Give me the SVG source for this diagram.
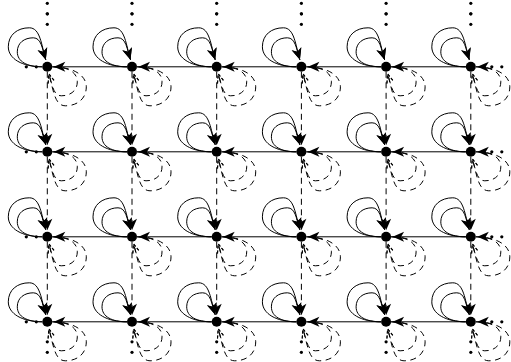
<svg xmlns="http://www.w3.org/2000/svg" width="511" height="362" viewBox="0 0 511 362">
<style>
.s{fill:none;stroke:#000;stroke-width:1}
.d{fill:none;stroke:#000;stroke-width:1;stroke-dasharray:6 4.5}
.n{fill:#000}
.dot{fill:#000}
.hid{fill:none;stroke:none}
</style>
<defs>
<marker id="ah" viewBox="-12.5 -6 13 12" refX="0" refY="0" markerWidth="13" markerHeight="12" markerUnits="userSpaceOnUse" orient="auto">
<path d="M0,0 L-11.5,-5 L-8.5,0 L-11.5,5 Z" fill="#000"/>
</marker>
<marker id="ao" viewBox="-12.5 -6 13 12" refX="0" refY="0" markerWidth="13" markerHeight="12" markerUnits="userSpaceOnUse" orient="auto">
<path d="M-9,-3.5 L0,0 L-9,3.5" fill="none" stroke="#000" stroke-width="1" stroke-dasharray="3 2"/>
</marker>
<g id="sl">
<path class="s" d="M-5,0 C-25,0 -39,-8 -39,-20 C-39,-32 -30,-39 -18,-39 C-7,-39 -6,-22 -1.5,-7" marker-end="url(#ah)"/>
<path class="s" d="M-5,0 C-20,0 -30,-5 -30,-15 C-30,-24 -23,-29 -14,-29 C-6,-29 -5,-18 -1.5,-7" marker-end="url(#ah)"/>
</g>
<g id="dl">
<path class="d" d="M5,0 C25,0 39,8 39,20 C39,32 30,39 18,39 C7,39 6,22 1.5,7" marker-end="url(#ao)"/>
<path class="d" d="M5,0 C20,0 30,5 30,15 C30,24 23,29 14,29 C6,29 5,18 1.5,7" marker-end="url(#ao)"/>
</g>
<g id="vd"><circle class="dot" cx="0" cy="0" r="1.6"/><circle class="dot" cx="0" cy="10.5" r="1.6"/></g>
</defs>
<g id="connectors">
<g id="loops-solid">
<use href="#sl" x="47.3" y="66.8"/><use href="#sl" x="132" y="66.8"/><use href="#sl" x="216.7" y="66.8"/><use href="#sl" x="301.4" y="66.8"/><use href="#sl" x="386.1" y="66.8"/><use href="#sl" x="470.8" y="66.8"/>
<use href="#sl" x="47.3" y="151.8"/><use href="#sl" x="132" y="151.8"/><use href="#sl" x="216.7" y="151.8"/><use href="#sl" x="301.4" y="151.8"/><use href="#sl" x="386.1" y="151.8"/><use href="#sl" x="470.8" y="151.8"/>
<use href="#sl" x="47.3" y="236.8"/><use href="#sl" x="132" y="236.8"/><use href="#sl" x="216.7" y="236.8"/><use href="#sl" x="301.4" y="236.8"/><use href="#sl" x="386.1" y="236.8"/><use href="#sl" x="470.8" y="236.8"/>
<use href="#sl" x="47.3" y="321.8"/><use href="#sl" x="132" y="321.8"/><use href="#sl" x="216.7" y="321.8"/><use href="#sl" x="301.4" y="321.8"/><use href="#sl" x="386.1" y="321.8"/><use href="#sl" x="470.8" y="321.8"/>
</g>
<g id="loops-dashed">
<use href="#dl" x="47.3" y="66.8"/><use href="#dl" x="132" y="66.8"/><use href="#dl" x="216.7" y="66.8"/><use href="#dl" x="301.4" y="66.8"/><use href="#dl" x="386.1" y="66.8"/><use href="#dl" x="470.8" y="66.8"/>
<use href="#dl" x="47.3" y="151.8"/><use href="#dl" x="132" y="151.8"/><use href="#dl" x="216.7" y="151.8"/><use href="#dl" x="301.4" y="151.8"/><use href="#dl" x="386.1" y="151.8"/><use href="#dl" x="470.8" y="151.8"/>
<use href="#dl" x="47.3" y="236.8"/><use href="#dl" x="132" y="236.8"/><use href="#dl" x="216.7" y="236.8"/><use href="#dl" x="301.4" y="236.8"/><use href="#dl" x="386.1" y="236.8"/><use href="#dl" x="470.8" y="236.8"/>
<use href="#dl" x="47.3" y="321.8"/><use href="#dl" x="132" y="321.8"/><use href="#dl" x="216.7" y="321.8"/><use href="#dl" x="301.4" y="321.8"/><use href="#dl" x="386.1" y="321.8"/><use href="#dl" x="470.8" y="321.8"/>
</g>
<g id="horizontal">
<path class="s" d="M127,66.8 L53.8,66.8" marker-end="url(#ah)"/><path class="s" d="M211.7,66.8 L138.5,66.8" marker-end="url(#ah)"/><path class="s" d="M296.4,66.8 L223.2,66.8" marker-end="url(#ah)"/><path class="s" d="M381.1,66.8 L307.9,66.8" marker-end="url(#ah)"/><path class="s" d="M465.8,66.8 L392.6,66.8" marker-end="url(#ah)"/><path class="hid" d="M487.3,66.8 L477.3,66.8" marker-end="url(#ah)"/>
<path class="s" d="M127,151.8 L53.8,151.8" marker-end="url(#ah)"/><path class="s" d="M211.7,151.8 L138.5,151.8" marker-end="url(#ah)"/><path class="s" d="M296.4,151.8 L223.2,151.8" marker-end="url(#ah)"/><path class="s" d="M381.1,151.8 L307.9,151.8" marker-end="url(#ah)"/><path class="s" d="M465.8,151.8 L392.6,151.8" marker-end="url(#ah)"/><path class="hid" d="M487.3,151.8 L477.3,151.8" marker-end="url(#ah)"/>
<path class="s" d="M127,236.8 L53.8,236.8" marker-end="url(#ah)"/><path class="s" d="M211.7,236.8 L138.5,236.8" marker-end="url(#ah)"/><path class="s" d="M296.4,236.8 L223.2,236.8" marker-end="url(#ah)"/><path class="s" d="M381.1,236.8 L307.9,236.8" marker-end="url(#ah)"/><path class="s" d="M465.8,236.8 L392.6,236.8" marker-end="url(#ah)"/><path class="hid" d="M487.3,236.8 L477.3,236.8" marker-end="url(#ah)"/>
<path class="s" d="M127,321.8 L53.8,321.8" marker-end="url(#ah)"/><path class="s" d="M211.7,321.8 L138.5,321.8" marker-end="url(#ah)"/><path class="s" d="M296.4,321.8 L223.2,321.8" marker-end="url(#ah)"/><path class="s" d="M381.1,321.8 L307.9,321.8" marker-end="url(#ah)"/><path class="s" d="M465.8,321.8 L392.6,321.8" marker-end="url(#ah)"/><path class="hid" d="M487.3,321.8 L477.3,321.8" marker-end="url(#ah)"/>
</g>
<g id="vertical">
<path class="d" d="M47.3,71.8 L47.3,145.3" marker-end="url(#ah)"/><path class="d" d="M132,71.8 L132,145.3" marker-end="url(#ah)"/><path class="d" d="M216.7,71.8 L216.7,145.3" marker-end="url(#ah)"/><path class="d" d="M301.4,71.8 L301.4,145.3" marker-end="url(#ah)"/><path class="d" d="M386.1,71.8 L386.1,145.3" marker-end="url(#ah)"/><path class="d" d="M470.8,71.8 L470.8,145.3" marker-end="url(#ah)"/>
<path class="d" d="M47.3,156.8 L47.3,230.3" marker-end="url(#ah)"/><path class="d" d="M132,156.8 L132,230.3" marker-end="url(#ah)"/><path class="d" d="M216.7,156.8 L216.7,230.3" marker-end="url(#ah)"/><path class="d" d="M301.4,156.8 L301.4,230.3" marker-end="url(#ah)"/><path class="d" d="M386.1,156.8 L386.1,230.3" marker-end="url(#ah)"/><path class="d" d="M470.8,156.8 L470.8,230.3" marker-end="url(#ah)"/>
<path class="d" d="M47.3,241.8 L47.3,315.3" marker-end="url(#ah)"/><path class="d" d="M132,241.8 L132,315.3" marker-end="url(#ah)"/><path class="d" d="M216.7,241.8 L216.7,315.3" marker-end="url(#ah)"/><path class="d" d="M301.4,241.8 L301.4,315.3" marker-end="url(#ah)"/><path class="d" d="M386.1,241.8 L386.1,315.3" marker-end="url(#ah)"/><path class="d" d="M470.8,241.8 L470.8,315.3" marker-end="url(#ah)"/>
</g>
<g id="ellipses">
<use href="#vd" x="47.3" y="3.3"/><use href="#vd" x="47.3" y="13.8"/><use href="#vd" x="132" y="3.3"/><use href="#vd" x="132" y="13.8"/><use href="#vd" x="216.7" y="3.3"/><use href="#vd" x="216.7" y="13.8"/><use href="#vd" x="301.4" y="3.3"/><use href="#vd" x="301.4" y="13.8"/><use href="#vd" x="386.1" y="3.3"/><use href="#vd" x="386.1" y="13.8"/><use href="#vd" x="470.8" y="3.3"/><use href="#vd" x="470.8" y="13.8"/>
<use href="#vd" x="47.3" y="341.8"/><use href="#vd" x="132" y="341.8"/><use href="#vd" x="216.7" y="341.8"/><use href="#vd" x="301.4" y="341.8"/><use href="#vd" x="386.1" y="341.8"/><use href="#vd" x="470.8" y="341.8"/>
<circle class="dot" cx="26.3" cy="66.8" r="1.6"/><circle class="dot" cx="36.3" cy="66.8" r="1.6"/><circle class="dot" cx="26.3" cy="151.8" r="1.6"/><circle class="dot" cx="36.3" cy="151.8" r="1.6"/><circle class="dot" cx="26.3" cy="236.8" r="1.6"/><circle class="dot" cx="36.3" cy="236.8" r="1.6"/><circle class="dot" cx="26.3" cy="321.8" r="1.6"/><circle class="dot" cx="36.3" cy="321.8" r="1.6"/>
<circle class="dot" cx="491.8" cy="66.8" r="1.6"/><circle class="dot" cx="501.8" cy="66.8" r="1.6"/><circle class="dot" cx="491.8" cy="151.8" r="1.6"/><circle class="dot" cx="501.8" cy="151.8" r="1.6"/><circle class="dot" cx="491.8" cy="236.8" r="1.6"/><circle class="dot" cx="501.8" cy="236.8" r="1.6"/><circle class="dot" cx="491.8" cy="321.8" r="1.6"/><circle class="dot" cx="501.8" cy="321.8" r="1.6"/>
</g>
</g>
<g id="n11"><circle class="n" cx="47.3" cy="66.8" r="5"/></g>
<g id="n12"><circle class="n" cx="132" cy="66.8" r="5"/></g>
<g id="n13"><circle class="n" cx="216.7" cy="66.8" r="5"/></g>
<g id="n14"><circle class="n" cx="301.4" cy="66.8" r="5"/></g>
<g id="n15"><circle class="n" cx="386.1" cy="66.8" r="5"/></g>
<g id="n16"><circle class="n" cx="470.8" cy="66.8" r="5"/></g>
<g id="n21"><circle class="n" cx="47.3" cy="151.8" r="5"/></g>
<g id="n22"><circle class="n" cx="132" cy="151.8" r="5"/></g>
<g id="n23"><circle class="n" cx="216.7" cy="151.8" r="5"/></g>
<g id="n24"><circle class="n" cx="301.4" cy="151.8" r="5"/></g>
<g id="n25"><circle class="n" cx="386.1" cy="151.8" r="5"/></g>
<g id="n26"><circle class="n" cx="470.8" cy="151.8" r="5"/></g>
<g id="n31"><circle class="n" cx="47.3" cy="236.8" r="5"/></g>
<g id="n32"><circle class="n" cx="132" cy="236.8" r="5"/></g>
<g id="n33"><circle class="n" cx="216.7" cy="236.8" r="5"/></g>
<g id="n34"><circle class="n" cx="301.4" cy="236.8" r="5"/></g>
<g id="n35"><circle class="n" cx="386.1" cy="236.8" r="5"/></g>
<g id="n36"><circle class="n" cx="470.8" cy="236.8" r="5"/></g>
<g id="n41"><circle class="n" cx="47.3" cy="321.8" r="5"/></g>
<g id="n42"><circle class="n" cx="132" cy="321.8" r="5"/></g>
<g id="n43"><circle class="n" cx="216.7" cy="321.8" r="5"/></g>
<g id="n44"><circle class="n" cx="301.4" cy="321.8" r="5"/></g>
<g id="n45"><circle class="n" cx="386.1" cy="321.8" r="5"/></g>
<g id="n46"><circle class="n" cx="470.8" cy="321.8" r="5"/></g>
</svg>
